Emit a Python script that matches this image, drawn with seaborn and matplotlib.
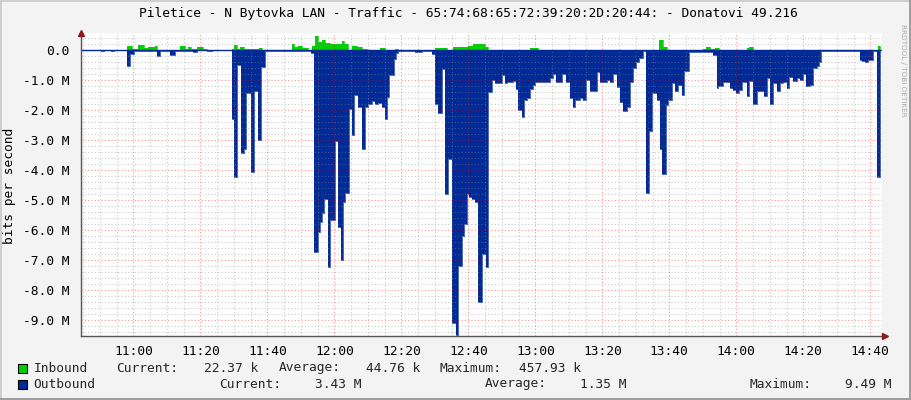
import numpy as np
import matplotlib
matplotlib.use("Agg")
import matplotlib.pyplot as plt
from matplotlib.patches import Rectangle
import seaborn as sns

# ---------------- data (minutes after 11:00, values in Mbit/s) ----------------
title = "Piletice - N Bytovka LAN - Traffic - 65:74:68:65:72:39:20:2D:20:44: - Donatovi 49.216"

out_t = [-15.7, -9.6, -8.7, -6.7, -5.8, -1.8, -1.0, 0.2, 7.1, 8.0, 11.0, 12.5, 17.8, 19.0,
         22.0, 23.5, 29.5, 30.1, 30.9, 32.2, 33.0, 33.6, 35.2, 36.1, 37.2, 38.2, 39.2,
         53.0, 54.0, 55.2, 55.7, 56.4, 57.0, 58.2, 58.7, 60.2, 61.2, 61.9, 62.5, 63.2,
         64.5, 65.2, 65.9, 67.2, 68.2, 69.2, 70.1, 71.2, 72.1, 73.1, 74.1, 75.1, 75.8,
         76.4, 77.8, 78.4, 79.1, 84.1, 86.1, 89.1, 90.1, 91.0, 92.1, 93.0, 94.0, 95.0,
         96.2, 96.8, 98.2, 98.8, 99.5, 100.2, 101.2, 102.0, 103.0, 104.0, 105.2, 105.8,
         107.2, 108.0, 110.0, 111.0, 111.5, 113.4, 114.2, 114.9, 115.9, 116.6, 117.4,
         118.4, 119.4, 119.9, 124.4, 125.4, 126.1, 127.9, 129.1, 130.4, 131.3, 131.8,
         133.3, 134.3, 135.1, 136.3, 138.3, 139.3, 141.3, 142.3, 143.1, 144.3, 145.3,
         146.1, 147.3, 148.3, 149.1, 150.1, 151.0, 152.1, 153.0, 154.0, 154.7, 156.2,
         157.2, 157.9, 158.9, 159.7, 160.9, 161.7, 162.7, 163.7, 164.4, 166.0, 173.1,
         174.1, 174.6, 176.1, 178.1, 179.1, 179.9, 180.9, 181.6, 183.1, 183.9, 184.9,
         186.1, 188.3, 189.1, 190.1, 190.9, 192.1, 193.0, 194.0, 195.0, 195.8, 196.8,
         198.0, 199.0, 200.0, 200.8, 202.0, 203.0, 204.0, 204.8, 205.2, 216.9, 217.4,
         218.4, 219.4, 220.9, 221.9, 222.9]
out_v = [0.0, -0.02, 0.0, -0.03, 0.0, -0.51, -0.12, -0.02, -0.18, -0.02, -0.14, -0.02,
         -0.04, 0.0, -0.03, 0.0, -2.27, -4.21, -0.49, -3.41, -3.30, -1.43, -4.05, -1.34,
         -2.97, -0.55, -0.02, -0.08, -6.71, -6.04, -5.71, -5.41, -4.96, -7.21, -5.66,
         -3.01, -5.88, -6.97, -5.04, -4.74, -1.96, -2.81, -1.49, -1.88, -3.28, -1.88,
         -1.77, -1.69, -1.80, -1.74, -1.90, -2.28, -1.54, -0.82, -0.29, -0.10, -0.01,
         -0.04, -0.01, -0.13, -1.77, -2.08, -0.63, -4.77, -3.63, -9.08, -9.49, -7.19,
         -6.17, -5.79, -4.79, -4.88, -4.96, -5.04, -8.38, -6.77, -7.21, -1.38, -0.99,
         -1.10, -0.82, -1.08, -1.04, -1.01, -1.27, -1.99, -2.23, -1.66, -1.60, -1.27,
         -1.16, -1.04, -0.93, -0.80, -1.04, -0.80, -1.04, -1.60, -1.88, -1.66, -1.57,
         -1.66, -0.99, -1.34, -0.73, -1.04, -0.99, -1.04, -0.79, -1.21, -1.71, -2.01,
         -1.88, -1.04, -0.58, -0.38, -0.24, -0.01, -4.74, -2.68, -1.41, -1.66, -3.28,
         -4.12, -1.82, -1.66, -1.10, -1.34, -1.16, -1.47, -0.68, -0.04, -0.16, -1.24,
         -1.18, -1.04, -1.24, -1.32, -1.41, -1.32, -1.04, -1.52, -1.02, -1.77, -1.36,
         -1.52, -0.93, -1.77, -1.10, -1.34, -1.08, -1.04, -1.24, -0.90, -1.02, -0.91,
         -0.97, -0.77, -1.18, -1.16, -0.60, -0.51, -0.38, -0.01, -0.33, -0.34, -0.38,
         -0.32, -0.01, -4.23, 0.0]

in_t = [-15.7, -1.8, -0.5, 1.5, 3.2, 4.5, 6.5, 7.2, 10.0, 13.9, 15.4, 16.4, 17.1, 18.9,
        20.9, 21.9, 29.4, 30.0, 31.0, 31.9, 33.0, 36.4, 37.4, 38.4, 47.3, 48.0, 49.3,
        50.3, 52.2, 53.3, 54.2, 55.2, 56.2, 57.2, 58.7, 59.2, 60.7, 62.2, 62.9, 64.2,
        65.2, 66.7, 68.2, 69.7, 73.6, 75.1, 78.1, 79.1, 90.1, 93.6, 95.5, 100.0, 101.5,
        105.0, 106.0, 118.4, 120.9, 153.0, 153.6, 157.0, 158.0, 159.2, 170.1, 171.1,
        172.1, 173.6, 174.9, 183.1, 183.9, 185.1, 222.2, 222.9]
in_v = [0.0, 0.14, 0.05, 0.17, 0.07, 0.10, 0.15, 0.03, 0.01, 0.15, 0.05, 0.10, 0.04,
        0.10, 0.05, 0.01, 0.05, 0.18, 0.05, 0.10, 0.04, 0.06, 0.08, 0.01, 0.21, 0.10,
        0.14, 0.08, 0.03, 0.14, 0.48, 0.29, 0.34, 0.26, 0.22, 0.23, 0.21, 0.31, 0.21,
        0.03, 0.14, 0.10, 0.05, 0.02, 0.07, 0.02, 0.06, 0.01, 0.07, 0.03, 0.11, 0.16,
        0.21, 0.10, 0.0, 0.07, 0.0, 0.02, 0.0, 0.34, 0.10, 0.0, 0.06, 0.10, 0.05, 0.07,
        0.0, 0.07, 0.11, 0.0, 0.14, 0.0]

x_ticks = [0, 20, 40, 60, 80, 100, 120, 140, 160, 180, 200, 220]
x_labels = ["11:00", "11:20", "11:40", "12:00", "12:20", "12:40", "13:00",
            "13:20", "13:40", "14:00", "14:20", "14:40"]
y_ticks = [0, -1, -2, -3, -4, -5, -6, -7, -8, -9]
y_labels = ["0.0", "-1.0 M", "-2.0 M", "-3.0 M", "-4.0 M", "-5.0 M",
            "-6.0 M", "-7.0 M", "-8.0 M", "-9.0 M"]

series_names = ["Inbound", "Outbound"]
stat_labels = ["Current:", "Average:", "Maximum:"]
inbound_stats = ["22.37 k", "44.76 k", "457.93 k"]
outbound_stats = ["3.43 M", "1.35 M", "9.49 M"]

# ---------------- styling ----------------
C_IN = "#00CF00"
C_OUT = "#002A97"
BG = "#F3F3F3"

sns.set_theme(style="white")
plt.rcParams["font.family"] = ["DejaVu Sans Mono", "DejaVu Sans"]
FS = 9.3

W, H = 911, 400
fig = plt.figure(figsize=(W / 100, H / 100), dpi=100, facecolor=BG)
L, R, T, B = 80.7, 882.0, 33.3, 335.7
ax = fig.add_axes([L / W, 1 - B / H, (R - L) / W, (B - T) / H])
ax.set_facecolor("white")

# areas
ax.fill_between(in_t, in_v, 0, step="post", color=C_IN, lw=0, zorder=2)
ax.fill_between(out_t, out_v, 0, step="post", color=C_OUT, lw=0, zorder=2)
sns.lineplot(x=in_t, y=in_v, drawstyle="steps-post", color=C_IN, lw=0.5,
             estimator=None, sort=False, ax=ax, zorder=2)
sns.lineplot(x=out_t, y=out_v, drawstyle="steps-post", color=C_OUT, lw=0.5,
             estimator=None, sort=False, ax=ax, zorder=2)
ax.axhline(0, color=C_OUT, lw=1.0, zorder=3)

ax.set_xlim(-15.7, 223.5)
ax.set_ylim(-9.51, 0.57)

ax.set_xticks(x_ticks)
ax.set_xticklabels(x_labels, fontsize=FS, color="#000000")
ax.set_xticks(np.arange(-15, 224, 5), minor=True)
ax.set_yticks(y_ticks)
ax.set_yticklabels(y_labels, fontsize=FS, color="#000000")
ax.set_yticks(np.arange(-9.4, 0.57, 0.2), minor=True)

ax.grid(which="minor", color="#8C8C8C", alpha=0.45, linestyle=(0, (1, 2)), lw=0.8)
ax.grid(which="major", color="#FF0000", alpha=0.42, linestyle=(0, (1, 2)), lw=0.8)
ax.set_axisbelow(False)
for gl in ax.get_xgridlines() + ax.get_ygridlines():
    gl.set_zorder(4)

ax.tick_params(axis="both", which="major", length=2, width=0.8, color="#FF8080", pad=6)
ax.tick_params(axis="both", which="minor", length=2, width=0.8, color="#BEBEBE")
ax.tick_params(axis="x", which="major", pad=5)

for s in ["top", "right"]:
    ax.spines[s].set_visible(False)
for s in ["left", "bottom"]:
    ax.spines[s].set_color("#555555")
    ax.spines[s].set_linewidth(1.0)
    ax.spines[s].set_zorder(5)

# axis arrows
ax.plot([0], [1.0], marker="^", ms=5, color="#8B1A1A", transform=ax.transAxes,
        clip_on=False, zorder=6)
ax.plot([1.004], [0], marker=">", ms=5, color="#8B1A1A", transform=ax.transAxes,
        clip_on=False, zorder=6)

# title, y label, watermark
fig.text(468 / W, 1 - 14 / H, title, ha="center", va="center", fontsize=FS, color="#000000")
fig.text(10 / W, 1 - 186 / H, "bits per second", rotation=90, ha="center", va="center",
         fontsize=FS, color="#000000")
fig.text(903 / W, 1 - 24 / H, "RRDTOOL / TOBI OETIKER", rotation=270, ha="center",
         va="top", fontsize=5.2, color="#AAAAAA", family=["DejaVu Sans"])

# legend
rows = [(368, C_IN, series_names[0], [116.2, 204.5, 278.9, 366.0, 439.9, 518.9], inbound_stats),
        (384, C_OUT, series_names[1], [219.6, 314.9, 485.2, 579.9, 749.6, 845.4], outbound_stats)]
for yc, col, name, xs, stats in rows:
    fig.patches.append(Rectangle((18 / W, 1 - (yc + 5) / H), 9 / W, 9 / H,
                                 transform=fig.transFigure, facecolor=col,
                                 edgecolor="#000000", lw=0.8))
    fig.text(33.7 / W, 1 - yc / H, name, ha="left", va="center", fontsize=FS)
    items = [stat_labels[0], stats[0], stat_labels[1], stats[1], stat_labels[2], stats[2]]
    for xx, tx in zip(xs, items):
        fig.text(xx / W, 1 - yc / H, tx, ha="left", va="center", fontsize=FS)

# frame shading
fig.patches.append(Rectangle((0, 0), 2 / W, 1, transform=fig.transFigure,
                             facecolor="#CFCFCF", lw=0))
fig.patches.append(Rectangle((0, 1 - 2 / H), 1, 2 / H, transform=fig.transFigure,
                             facecolor="#CFCFCF", lw=0))
fig.patches.append(Rectangle((1 - 2 / W, 0), 2 / W, 1, transform=fig.transFigure,
                             facecolor="#9E9E9E", lw=0))
fig.patches.append(Rectangle((0, 0), 1, 2 / H, transform=fig.transFigure,
                             facecolor="#9E9E9E", lw=0))

fig.savefig("out.png", dpi=100, facecolor=BG)
